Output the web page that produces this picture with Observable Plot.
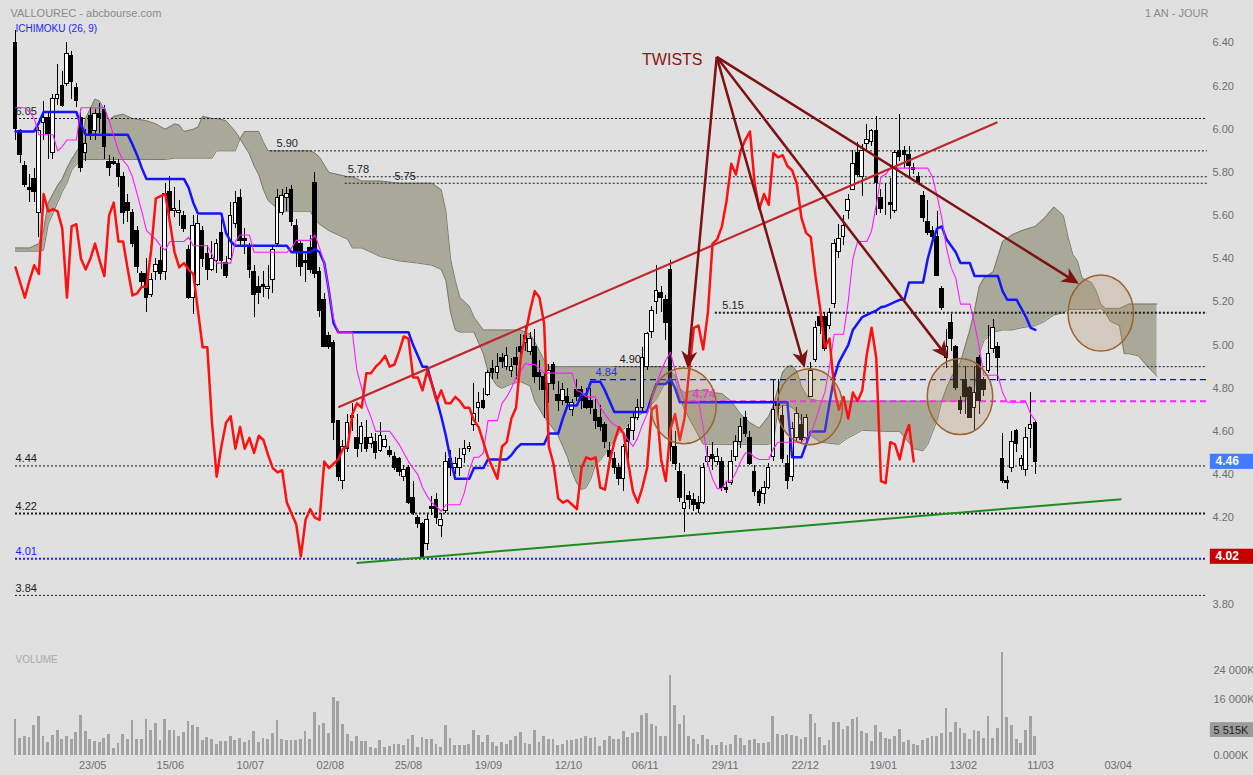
<!DOCTYPE html>
<html><head><meta charset="utf-8">
<script src="https://cdn.jsdelivr.net/npm/d3@7"></script>
<script src="https://cdn.jsdelivr.net/npm/@observablehq/plot@0.6"></script>
<style>
html,body{margin:0;padding:0;background:#e0e0e0;}
#chart svg{display:block;}
</style></head><body><div id="chart"></div>
<script>
// ---------------- DATA ----------------
const opens = [6.40,5.99,5.83,5.73,5.77,5.61,6.03,6.05,5.89,6.14, 6.20,6.21,6.34,6.19,6.05,5.89,6.06,5.99,6.07,6.09, 5.85,5.85,5.84,5.78,5.66,5.61,5.53,5.33,5.33,5.23, 5.34,5.39,5.34,5.71,5.62,5.61,5.60,5.44,5.22,5.28, 5.53,5.42,5.35,5.39,5.52,5.38,5.40,5.56,5.68,5.49, 5.45,5.34,5.27,5.28,5.26,5.30,5.47,5.61,5.68,5.72, 5.55,5.47,5.39,5.45,5.75,5.34,5.21,5.04,5.01,4.65, 4.37,4.52,4.66,4.57,4.54,4.57,4.54,4.55,4.51,4.53, 4.51,4.48,4.47,4.39,4.43,4.29,4.20,4.17,4.08,4.25, 4.28,4.16,4.23,4.47,4.43,4.43,4.49,4.52,4.63,4.71, 4.74,4.77,4.89,4.87,4.94,4.90,4.88,4.94,4.99,5.01, 4.97,4.99,4.87,4.85,4.82,4.91,4.77,4.74,4.76,4.70, 4.79,4.79,4.76,4.74,4.70,4.66,4.63,4.51,4.47,4.43, 4.38,4.61,4.60,4.66,4.71,4.90,5.06,5.20,5.24,5.21, 5.35,4.53,4.41,4.24,4.30,4.28,4.27,4.27,4.46,4.49, 4.46,4.46,4.34,4.36,4.48,4.55,4.66,4.57,4.41,4.32, 4.31,4.34,4.48,4.73,4.67,4.45,4.39,4.57,4.63,4.57, 4.76,4.93,5.13,5.13,5.09,5.19,5.43,5.50,5.62,5.72, 5.89,5.78,5.93,5.94,5.99,5.68,5.70,5.66,5.62,5.90, 5.90,5.88,5.82,5.78,5.69,5.57,5.53,5.50,5.26,4.94, 5.10,4.99,4.74,4.84,4.80,4.71,4.94,4.84,4.88,4.98, 4.99,4.47,4.37,4.43,4.60,4.44,4.42,4.61,4.64];
const highs = [6.46,6.00,5.85,5.79,5.82,6.01,6.13,6.08,6.16,6.30, 6.27,6.40,6.36,6.21,6.09,6.00,6.10,6.09,6.12,6.11, 5.88,5.87,5.86,5.80,5.70,5.63,5.55,5.34,5.40,5.33, 5.40,5.45,5.75,5.78,5.73,5.67,5.62,5.46,5.60,5.60, 5.55,5.46,5.48,5.49,5.58,5.41,5.66,5.71,5.72,5.54, 5.47,5.37,5.32,5.34,5.37,5.46,5.72,5.72,5.73,5.74, 5.58,5.48,5.42,5.51,5.80,5.36,5.24,5.06,5.02,4.65, 4.56,4.68,4.73,4.68,4.64,4.65,4.59,4.59,4.64,4.58, 4.53,4.50,4.48,4.44,4.44,4.37,4.21,4.18,4.22,4.30, 4.31,4.22,4.50,4.51,4.48,4.52,4.56,4.55,4.82,4.78, 4.80,4.88,4.93,4.96,4.96,4.99,4.94,4.99,5.05,5.09, 5.06,5.07,4.93,4.87,4.91,4.92,4.83,4.82,4.80,4.75, 4.84,4.81,4.80,4.80,4.75,4.72,4.64,4.55,4.50,4.45, 4.54,4.63,4.69,4.75,4.99,5.06,5.18,5.37,5.27,5.23, 5.39,4.60,4.45,4.40,4.32,4.31,4.30,4.45,4.53,4.55, 4.52,4.48,4.37,4.51,4.58,4.66,4.69,4.60,4.44,4.33, 4.37,4.45,4.84,4.84,4.72,4.49,4.64,4.71,4.68,4.68, 4.92,5.11,5.15,5.15,5.17,5.49,5.56,5.60,5.70,5.90, 5.94,5.93,6.02,6.00,6.06,5.72,5.75,5.77,5.90,6.07, 5.92,5.92,5.84,5.80,5.71,5.67,5.55,5.62,5.27,5.07, 5.14,5.00,4.76,4.90,4.81,4.90,4.95,4.85,5.09,5.12, 5.01,4.59,4.39,4.60,4.61,4.49,4.62,4.78,4.65];
const lows = [5.95,5.84,5.73,5.66,5.66,5.50,5.95,5.86,5.86,6.11, 6.10,6.20,6.14,6.10,5.80,5.85,5.95,5.95,5.98,5.86, 5.78,5.83,5.73,5.56,5.57,5.45,5.33,5.26,5.15,5.22, 5.30,5.30,5.30,5.57,5.59,5.55,5.52,5.21,5.14,5.27, 5.36,5.30,5.34,5.33,5.35,5.31,5.39,5.54,5.45,5.42, 5.31,5.13,5.19,5.22,5.21,5.24,5.45,5.60,5.62,5.55, 5.36,5.32,5.29,5.33,5.31,5.13,4.99,4.98,4.56,4.37, 4.33,4.50,4.60,4.48,4.50,4.50,4.52,4.47,4.50,4.52, 4.48,4.42,4.39,4.37,4.26,4.21,4.15,4.01,4.05,4.21, 4.17,4.11,4.22,4.39,4.40,4.39,4.45,4.50,4.60,4.64, 4.70,4.76,4.84,4.84,4.89,4.88,4.85,4.84,4.94,4.97, 4.95,4.82,4.79,4.66,4.73,4.79,4.69,4.72,4.71,4.67, 4.74,4.70,4.70,4.68,4.61,4.60,4.52,4.45,4.40,4.35, 4.32,4.47,4.56,4.65,4.69,4.88,5.03,5.14,5.15,5.02, 4.46,4.42,4.27,4.13,4.24,4.23,4.22,4.26,4.44,4.42, 4.44,4.32,4.31,4.35,4.46,4.52,4.57,4.44,4.30,4.25, 4.26,4.33,4.46,4.65,4.45,4.33,4.37,4.55,4.54,4.55, 4.76,4.92,5.05,4.97,5.07,5.17,5.40,5.46,5.58,5.72, 5.78,5.69,5.90,5.92,5.60,5.61,5.60,5.58,5.61,5.85, 5.82,5.77,5.79,5.74,5.57,5.51,5.46,5.32,5.16,4.89, 4.97,4.79,4.68,4.68,4.66,4.60,4.68,4.76,4.87,4.96, 4.83,4.36,4.33,4.41,4.50,4.42,4.39,4.52,4.40];
const closes = [6.00,5.88,5.74,5.72,5.71,5.99,6.05,5.98,6.14,6.16, 6.11,6.35,6.22,6.13,5.82,5.93,5.98,6.07,6.05,5.92, 5.82,5.84,5.78,5.61,5.62,5.47,5.36,5.29,5.22,5.30, 5.37,5.33,5.70,5.62,5.63,5.62,5.54,5.22,5.55,5.56, 5.40,5.35,5.40,5.47,5.39,5.32,5.60,5.66,5.48,5.48, 5.35,5.23,5.24,5.27,5.27,5.44,5.68,5.69,5.70,5.57, 5.43,5.36,5.38,5.35,5.33,5.16,4.99,4.99,4.64,4.39, 4.53,4.64,4.67,4.52,4.62,4.52,4.57,4.50,4.58,4.56, 4.49,4.43,4.41,4.42,4.27,4.22,4.17,4.02,4.19,4.24, 4.20,4.19,4.46,4.43,4.45,4.47,4.52,4.53,4.68,4.73, 4.71,4.87,4.87,4.90,4.92,4.95,4.90,4.91,4.97,5.04, 5.03,4.85,4.85,4.79,4.88,4.82,4.74,4.79,4.73,4.73, 4.76,4.74,4.71,4.71,4.65,4.62,4.55,4.48,4.43,4.38, 4.53,4.55,4.66,4.71,4.94,5.05,5.16,5.25,5.22,5.10, 4.53,4.45,4.29,4.27,4.28,4.26,4.24,4.43,4.48,4.47, 4.48,4.34,4.33,4.46,4.55,4.62,4.59,4.45,4.32,4.27, 4.34,4.43,4.70,4.72,4.47,4.37,4.61,4.68,4.56,4.66, 4.88,5.08,5.09,4.98,5.15,5.47,5.49,5.55,5.67,5.84, 5.79,5.90,5.95,5.99,5.75,5.63,5.70,5.65,5.89,5.87, 5.88,5.83,5.81,5.75,5.59,5.52,5.50,5.32,5.17,4.99, 5.03,4.80,4.70,4.76,4.66,4.78,4.74,4.79,4.96,5.08, 4.94,4.37,4.36,4.55,4.54,4.47,4.57,4.63,4.46];
// volume, thousands of shares
const volumes = [10110,4720,5390,5200,8380,10980,5490,3760,5780,7130, 4620,5300,4530,6640,11270,6740,4620,4040,3760,4820, 6070,1930,3470,5970,4620,9820,4430,4430,10300,7220, 8960,4330,10110,7220,7130,5490,6550,9730,8570,7900, 4330,5100,4620,3180,4040,3850,5490,4240,4820,3560, 4330,6930,3560,4910,4620,6360,9820,4530,4240,4330, 4330,4430,6840,4620,12130,8470,9150,6260,16470,15220, 8670,6070,4040,5390,4040,3950,2310,2020,4240,2310, 2500,2990,3080,2790,4620,5780,2310,5100,4620,4430, 3180,2310,8380,4820,2890,2700,2790,2990,7220,5680, 3760,5680,3660,2500,3760,3180,4330,5490,6640,3470, 3080,7130,3760,5390,4620,4620,2790,3180,4330,4140, 4620,4910,5490,4720,5010,2600,4140,5390,4530,4620, 6930,5200,6160,6550,11270,11940,8860,8190,5300,5490, 22630,14160,8860,11270,5390,4620,3080,5680,4620,2700, 2700,3760,2890,3080,5590,4910,2890,4330,4430,3270, 3470,3760,10980,5970,5780,6070,5780,5300,4430,5200, 11650,9150,5200,2890,4140,9240,9440,7320,8090,10300, 10880,6840,6260,3950,8380,6640,4910,4620,5490,7420, 3760,4330,3080,2700,4330,4720,5300,5490,6360,13480, 6550,9240,7700,6360,4430,7220,6930,4720,10980,4910, 7800,29180,10790,8380,4430,3370,7130,10980,5515];

// Ichimoku lines: [first day index, value] (step lines)
const kijunSteps = [[0,5.99],[5,6.03],[6,6.08],[14,6.02],[15,5.975],[25,5.93],[26,5.88],[27,5.82],[28,5.77],[37,5.73],[38,5.66],[39,5.61],[45,5.52],[46,5.48],[47,5.46],[59,5.43],[64,5.445],[65,5.43],[66,5.38],[67,5.25],[68,5.10],[69,5.06],[85,5.00],[86,4.95],[87,4.90],[89,4.82],[90,4.75],[91,4.67],[92,4.58],[93,4.47],[94,4.38],[98,4.43],[101,4.47],[106,4.49],[107,4.52],[108,4.54],[114,4.59],[117,4.66],[118,4.72],[121,4.77],[123,4.83],[126,4.79],[127,4.74],[128,4.69],[136,4.76],[137,4.82],[140,4.845],[141,4.80],[142,4.735],[166,4.48],[169,4.54],[170,4.60],[174,4.73],[175,4.85],[176,4.92],[177,4.96],[178,5.00],[179,5.07],[180,5.10],[181,5.13],[182,5.14],[183,5.15],[184,5.16],[185,5.175],[186,5.18],[187,5.19],[188,5.20],[189,5.21],[191,5.29],[195,5.40],[196,5.48],[197,5.54],[198,5.55],[199,5.49],[200,5.46],[201,5.43],[202,5.38],[205,5.32],[211,5.25],[212,5.21],[215,5.17],[216,5.13],[217,5.08],[218,5.07]];
const tenkanSteps = [[0,6.10],[3,6.08],[4,6.05],[5,5.975],[9,5.90],[10,5.92],[11,5.95],[14,6.10],[20,6.04],[21,5.97],[22,5.90],[23,5.855],[24,5.83],[25,5.78],[26,5.70],[27,5.62],[28,5.53],[29,5.51],[30,5.49],[31,5.46],[32,5.44],[33,5.48],[37,5.50],[38,5.46],[42,5.42],[43,5.38],[47,5.48],[48,5.51],[51,5.43],[59,5.45],[60,5.485],[64,5.51],[65,5.45],[66,5.38],[67,5.25],[68,5.12],[69,5.06],[73,4.88],[74,4.80],[75,4.72],[76,4.665],[77,4.60],[81,4.57],[82,4.54],[83,4.50],[84,4.46],[85,4.43],[86,4.40],[87,4.34],[88,4.30],[89,4.27],[90,4.25],[91,4.23],[92,4.26],[96,4.32],[97,4.42],[98,4.48],[100,4.50],[101,4.65],[104,4.73],[105,4.76],[106,4.80],[107,4.85],[108,4.88],[109,4.915],[110,4.91],[112,4.89],[113,4.87],[120,4.79],[121,4.78],[122,4.76],[125,4.71],[126,4.68],[127,4.65],[128,4.63],[129,4.62],[130,4.59],[131,4.56],[132,4.53],[133,4.57],[134,4.63],[135,4.68],[136,4.75],[137,4.82],[138,4.88],[139,4.93],[140,4.967],[141,4.88],[142,4.80],[143,4.74],[147,4.62],[148,4.45],[149,4.38],[150,4.335],[152,4.37],[154,4.41],[155,4.46],[156,4.50],[158,4.48],[159,4.47],[162,4.52],[163,4.55],[169,4.57],[170,4.59],[171,4.65],[172,4.72],[173,4.78],[174,4.90],[175,5.05],[178,5.20],[179,5.40],[180,5.48],[183,5.53],[184,5.65],[185,5.78],[186,5.79],[187,5.82],[196,5.78],[197,5.69],[198,5.59],[199,5.45],[200,5.36],[201,5.31],[202,5.19],[205,5.10],[206,4.99],[207,4.86],[211,4.78],[212,4.735],[217,4.68],[218,4.65]];

// Kumo (cloud) edges, sampled along the day index (projected 26 days ahead)
const cloudIdx = [0,3,5,6,7,9,10,11,12,14,15,17,18,19,20,21,23,25,28,30,32,34,35,36,38,39,40,42,43,45,47,48,49,50,51,52,53,54,55,57,60,63,64,65,67,69,71,72,74,78,82,86,89,91,92,93,94,95,97,98,99,100,101,102,103,104,106,108,110,111,113,114,116,117,118,119,120,121,122,123,124,125,127,129,131,133,135,137,139,141,142,143,145,147,149,151,153,155,157,159,161,162,163,164,165,166,167,168,169,170,172,176,178,181,186,189,192,194,195,197,198,199,200,202,204,205,206,207,209,211,213,215,218,220,222,224,225,226,227,228,230,231,232,233,234,236,237,238,240,242,244];
const cloudTop = [5.45,5.45,5.47,5.53,5.66,5.74,5.77,5.82,5.86,5.93,6.05,6.14,6.13,6.09,6.04,6.06,6.07,6.05,6.04,6.025,6.00,6.025,6.02,5.99,6.00,6.01,6.06,6.05,6.05,6.04,5.99,5.956,5.99,5.99,5.99,5.99,5.94,5.90,5.90,5.90,5.90,5.90,5.89,5.87,5.80,5.79,5.78,5.78,5.76,5.76,5.75,5.75,5.75,5.72,5.62,5.40,5.30,5.22,5.18,5.13,5.10,5.07,5.07,5.07,5.07,5.07,5.07,5.07,5.05,5.015,4.93,4.90,4.90,4.90,4.90,4.90,4.90,4.90,4.90,4.90,4.90,4.90,4.90,4.90,4.90,4.90,4.90,4.90,4.90,4.86,4.80,4.78,4.79,4.79,4.78,4.775,4.74,4.68,4.64,4.615,4.67,4.72,4.80,4.875,4.90,4.905,4.88,4.81,4.77,4.75,4.74,4.74,4.74,4.74,4.74,4.74,4.74,4.74,4.74,4.74,4.74,4.80,4.85,4.92,5.07,5.16,5.27,5.31,5.34,5.48,5.51,5.53,5.55,5.59,5.64,5.60,5.50,5.42,5.39,5.31,5.29,5.25,5.19,5.17,5.17,5.17,5.18,5.19,5.19,5.19,5.19];
const cloudBottom = [5.435,5.435,5.435,5.44,5.56,5.66,5.71,5.75,5.81,5.86,5.86,5.86,5.86,5.86,5.86,5.86,5.86,5.86,5.86,5.86,5.86,5.866,5.866,5.866,5.866,5.866,5.866,5.866,5.90,5.90,5.90,5.956,5.92,5.886,5.83,5.79,5.72,5.67,5.65,5.62,5.62,5.62,5.58,5.56,5.53,5.51,5.49,5.45,5.45,5.41,5.39,5.38,5.37,5.35,5.30,5.15,5.07,5.06,5.06,5.06,5.01,4.96,4.88,4.84,4.81,4.80,4.82,4.83,4.81,4.74,4.667,4.64,4.58,4.53,4.48,4.41,4.36,4.33,4.34,4.38,4.45,4.465,4.53,4.59,4.63,4.67,4.70,4.75,4.83,4.84,4.76,4.70,4.62,4.54,4.54,4.54,4.54,4.54,4.54,4.54,4.54,4.55,4.70,4.72,4.72,4.71,4.69,4.65,4.61,4.58,4.55,4.54,4.57,4.605,4.60,4.60,4.52,4.51,4.54,4.65,4.74,4.74,4.74,4.74,4.75,4.80,4.96,5.02,5.06,5.07,5.07,5.08,5.09,5.11,5.14,5.15,5.165,5.165,5.165,5.165,5.165,5.165,5.17,5.15,5.11,5.09,4.96,4.96,4.95,4.90,4.855];

// x-axis dates (position in trading days) and price ticks (4.00 sits under the 4.02 marker)
const dateTickIdx = [16.5,33.1,50.2,67.3,84.0,101.1,118.2,134.6,151.7,168.8,185.5,202.6,219.1,235.7];
const dateTickLabels = ["23/05","15/06","10/07","02/08","25/08","19/09","12/10","06/11","29/11","22/12","19/01","13/02","11/03","03/04"];
const priceTicks = [3.8,4.2,4.4,4.6,4.8,5.0,5.2,5.4,5.6,5.8,6.0,6.2,6.4];
const volTicks = [0,16000,24000];
const volTickLabels = ["0.000K","16 000K","24 000K"];

// drawn support / resistance levels
const levelValues = [6.05,5.90,5.78,5.75,5.15,4.90,4.84,4.74,4.44,4.22,4.01,3.84];
const levelStartIdx = [0,54.5,70.5,70.5,149.6,128.2,122.9,144.3,0,0,0,0];
const levelLabelIdx = [0,55.8,71,81,151.1,129.1,124,144.7,0,0,0,0];
const levelKinds = ["thin","thin","thin","thin","thick","thin","blueDash","magentaDash","thin","thick","blueDot","thin"];

// hand-drawn annotations (day index, price)
const trendUp = {i1: 69.0, v1: 4.712, i2: 209.9, v2: 6.033};
const trendSupport = {i1: 72.9, v1: 3.99, i2: 236.4, v2: 4.286};
const twistLabel = {i: 140.4, v: 6.321, text: "TWISTS"};
const twistApex = {i: 150.0, v: 6.333};
const twistTipIdx = [143.8, 168.8, 199.5, 227.4];
const twistTipVal = [4.891, 4.893, 4.936, 5.282];
const circleIdx = [142.9, 169.9, 202.0, 232.1];
const circleVal = [4.716, 4.712, 4.759, 5.146];
const circleRadiusIdx = 7.0, circleRadiusVal = 0.176;
const priceMarkers = [{v: 4.46, text: "4.46", fill: "#3f7cff"}, {v: 4.02, text: "4.02", fill: "#c40000"}];
const lastVolume = {v: 5515, text: "5 515K"};

// ---------------- BUILD ----------------
const N = opens.length;
const KIJUN = 26; // ICHIMOKU (26, 9)
const candles = d3.range(N).map(i => ({i, open: opens[i], high: highs[i], low: lows[i], close: closes[i]}));
const upC = candles.filter(d => d.close >= d.open);
const downC = candles.filter(d => d.close < d.open);
function expandSteps(steps) {
  const out = []; let k = 0;
  for (let i = 0; i < N; i++) { while (k + 1 < steps.length && steps[k + 1][0] <= i) k++; out.push({i, v: steps[k][1]}); }
  return out;
}
const kijun = expandSteps(kijunSteps), tenkan = expandSteps(tenkanSteps);
const chikou = candles.filter(d => d.i >= KIJUN).map(d => ({i: d.i - KIJUN, v: d.close}));
const cloud = cloudIdx.map((i, k) => ({i, top: cloudTop[k], bot: cloudBottom[k]}));
const volData = volumes.map((v, i) => ({i, v}));
const dateTicks = dateTickIdx.map((i, k) => ({i, t: dateTickLabels[k]}));
const levels = levelValues.map((v, k) => ({v, start: levelStartIdx[k], lab: levelLabelIdx[k], kind: levelKinds[k], text: v.toFixed(2)}));
const X_MAX = 254.8;
const FONT = "'Liberation Sans', Arial, Helvetica, sans-serif";
const ARROW = "#7d1212";

const levelStyles = {
  thin: {stroke: "#1a1a1a", w: 1, dash: "2,2", label: "#222", fw: "normal", fs: 11},
  thick: {stroke: "#1a1a1a", w: 2, dash: "2,2", label: "#222", fw: "normal", fs: 11},
  blueDot: {stroke: "#1c1cff", w: 2, dash: "2,2", label: "#1c1cff", fw: "normal", fs: 11},
  blueDash: {stroke: "#0000ff", w: 1.2, dash: "6,4", label: "#2a2aff", fw: "normal", fs: 11},
  magentaDash: {stroke: "#ff22ff", w: 2, dash: "6,4", label: "#ff22ff", fw: "bold", fs: 12}
};
const levelMarks = Object.entries(levelStyles).flatMap(([kind, s]) => {
  const data = levels.filter(d => d.kind === kind);
  return [
    Plot.ruleY(data, {y: "v", x1: "start", x2: () => X_MAX, stroke: s.stroke, strokeWidth: s.w, strokeDasharray: s.dash}),
    Plot.text(data, {x: "lab", y: "v", text: "text", dy: -7, textAnchor: "start", fill: s.label, fontWeight: s.fw, fontSize: s.fs})
  ];
});

function overlay(...args) {
  const sc = args.find(a => a && typeof a.x === "function" && typeof a.y === "function");
  if (!sc) return null;
  const g = d3.create("svg:g");
  circleIdx.forEach((ci, k) => {
    const cx = sc.x(ci), cy = sc.y(circleVal[k]);
    const rx = Math.abs(sc.x(ci + circleRadiusIdx) - cx), ry = Math.abs(sc.y(circleVal[k] + circleRadiusVal) - cy);
    g.append("ellipse").attr("cx", cx).attr("cy", cy).attr("rx", rx).attr("ry", ry)
      .attr("fill", "rgba(180,140,100,0.27)").attr("stroke", "#a0622c").attr("stroke-width", 1.5);
  });
  const ax = sc.x(twistApex.i), ay = sc.y(twistApex.v);
  twistTipIdx.forEach((ti, k) => {
    const tx = sc.x(ti), ty = sc.y(twistTipVal[k]);
    const dx = tx - ax, dy = ty - ay, len = Math.hypot(dx, dy);
    const ux = dx / len, uy = dy / len, nx = -uy, ny = ux;
    const L = 17, W = 8, notch = 12;
    g.append("line").attr("x1", ax).attr("y1", ay).attr("x2", tx - ux * notch).attr("y2", ty - uy * notch)
      .attr("stroke", ARROW).attr("stroke-width", 2.5);
    g.append("path").attr("d", `M${tx},${ty}L${tx - ux * L + nx * W},${ty - uy * L + ny * W}L${tx - ux * notch},${ty - uy * notch}L${tx - ux * L - nx * W},${ty - uy * L - ny * W}Z`)
      .attr("fill", ARROW);
  });
  return g.node();
}

const main = Plot.plot({
  width: 1253, height: 640, marginLeft: 15, marginRight: 46, marginTop: 20, marginBottom: 20,
  style: {background: "#e0e0e0", fontFamily: FONT, fontSize: "11px", overflow: "visible"},
  x: {domain: [0, X_MAX], axis: null},
  y: {domain: [3.7237, 6.5041], axis: null},
  marks: [
    Plot.areaY(cloud, {x: "i", y1: "bot", y2: "top", fill: "#a9a999"}),
    Plot.line(cloud, {x: "i", y: "top", stroke: "#7b7b6b", strokeWidth: 1}),
    Plot.line(cloud, {x: "i", y: "bot", stroke: "#7b7b6b", strokeWidth: 1}),
    ...levelMarks,
    Plot.ruleX(candles, {x: "i", y1: "low", y2: "high", stroke: "#000", strokeWidth: 1, shapeRendering: "crispEdges"}),
    Plot.rect(downC, {x1: d => d.i - 0.38, x2: d => d.i + 0.38, y1: "open", y2: "close", fill: "#000", stroke: "#000", strokeWidth: 1, shapeRendering: "crispEdges"}),
    Plot.rect(upC, {x1: d => d.i - 0.38, x2: d => d.i + 0.38, y1: "open", y2: "close", fill: "#fff", stroke: "#000", strokeWidth: 1, shapeRendering: "crispEdges"}),
    Plot.line(kijun, {x: "i", y: "v", stroke: "#1414ff", strokeWidth: 2.5}),
    Plot.line(tenkan, {x: "i", y: "v", stroke: "#ff1aff", strokeWidth: 1.1}),
    Plot.line(chikou, {x: "i", y: "v", stroke: "#ff1010", strokeWidth: 2.5}),
    Plot.link([trendUp], {x1: "i1", y1: "v1", x2: "i2", y2: "v2", stroke: "#c0262c", strokeWidth: 2.2}),
    Plot.link([trendSupport], {x1: "i1", y1: "v1", x2: "i2", y2: "v2", stroke: "#1e8c1e", strokeWidth: 2}),
    overlay,
    Plot.text([twistLabel], {x: "i", y: "v", text: "text", fill: "#8b1515", fontSize: 16}),
    Plot.text(priceTicks, {x: () => X_MAX, y: d => d, text: d => d.toFixed(2), dx: 5, textAnchor: "start", fill: "#6e6e6e"}),
    Plot.rect(priceMarkers, {x1: () => X_MAX + 0.6, x2: () => X_MAX + 9.9, y1: d => d.v - 0.036, y2: d => d.v + 0.034, fill: d => d.fill}),
    Plot.text(priceMarkers, {x: () => X_MAX, y: "v", text: "text", dx: 8, textAnchor: "start", fill: "#fff", fontSize: 12, fontWeight: "bold"}),
    Plot.text(["VALLOUREC - abcbourse.com"], {frameAnchor: "top-left", text: d => d, dx: -5, dy: -11, textAnchor: "start", fill: "#8a8a8a", fontSize: 11}),
    Plot.text(["ICHIMOKU (26, 9)"], {frameAnchor: "top-left", text: d => d, dx: 0, dy: 4, textAnchor: "start", fill: "#1c1cff", fontSize: 10}),
    Plot.text(["1 AN - JOUR"], {frameAnchor: "top-right", text: d => d, dx: 1, dy: -11, textAnchor: "end", fill: "#8a8a8a", fontSize: 11})
  ],
  color: {type: "identity"}
});

const vol = Plot.plot({
  width: 1253, height: 135, marginLeft: 15, marginRight: 46, marginTop: 10, marginBottom: 20,
  style: {background: "#e0e0e0", fontFamily: FONT, fontSize: "11px", overflow: "visible"},
  x: {domain: [0, X_MAX], axis: null},
  y: {domain: [0, 29800], axis: null},
  marks: [
    Plot.rect(volData, {x1: d => d.i - 0.3, x2: d => d.i + 0.3, y1: () => 0, y2: "v", fill: "#a2a2a2", shapeRendering: "crispEdges"}),
    Plot.text(dateTicks, {x: "i", y: () => 0, text: "t", dy: 10, fill: "#6e6e6e"}),
    Plot.text(volTicks, {x: () => X_MAX, y: d => d, text: (d, k) => volTickLabels[k], dx: 6, textAnchor: "start", fill: "#6e6e6e"}),
    Plot.rect([lastVolume], {x1: () => X_MAX + 0.6, x2: () => X_MAX + 9.9, y1: d => d.v - 2100, y2: d => d.v + 2100, fill: "#9a9a9a", dy: -6}),
    Plot.text([lastVolume], {x: () => X_MAX, y: "v", text: "text", dx: 6, dy: -6, textAnchor: "start", fill: "#222"}),
    Plot.text(["VOLUME"], {frameAnchor: "top-left", text: d => d, dy: 5, textAnchor: "start", fill: "#ababab", fontSize: 10})
  ]
});

const root = document.getElementById("chart");
root.appendChild(main);
root.appendChild(vol);
</script></body></html>
